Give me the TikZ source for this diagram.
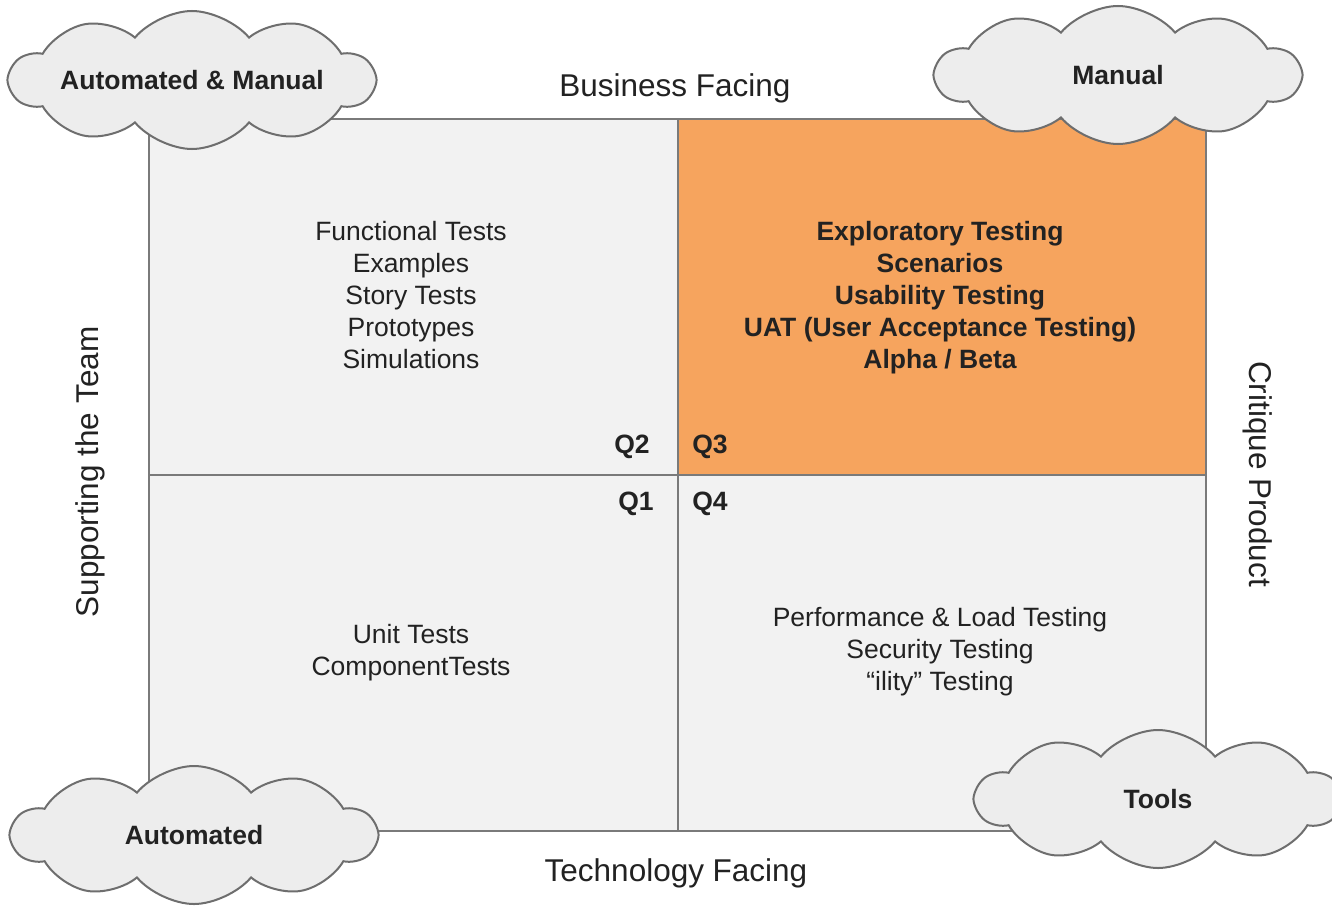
\documentclass[tikz,border=0pt]{standalone}
\usepackage{fontspec}
\setmainfont{Liberation Sans}
\usetikzlibrary{shapes.symbols}
\definecolor{quadgray}{HTML}{F2F2F2}
\definecolor{quadorange}{HTML}{F6A45E}
\definecolor{edgegray}{HTML}{7A7A7A}
\definecolor{cloudfill}{HTML}{EDEDED}
\definecolor{cloudedge}{HTML}{6E6E6E}
\definecolor{txt}{HTML}{222222}
\tikzset{
  quad/.style={draw=edgegray, line width=1.5pt},
  qtext/.style={align=center, text=txt, font=\fontsize{26.5}{32}\selectfont, inner sep=0pt},
  qbold/.style={qtext, font=\fontsize{26.5}{32}\selectfont\bfseries},
  axis/.style={text=txt, font=\fontsize{31.5}{36}\selectfont, inner sep=0pt},
  cloudbox/.style={cloud, cloud puffs=10, cloud puff arc=100, cloud ignores aspect,
    draw=cloudedge, line width=2pt, fill=cloudfill, minimum width=364pt, minimum height=138pt,
    text=txt, font=\fontsize{26.5}{30}\selectfont\bfseries, inner sep=0pt},
}
\begin{document}
\begin{tikzpicture}[x=1pt,y=-1pt]
\useasboundingbox (0,0) rectangle (1332,908);
\fill[white] (0,0) rectangle (1332,908);
% quadrants
\node[quad, fill=quadgray, minimum width=529pt, minimum height=356pt, inner sep=0pt, anchor=north west] (q2) at (148,118) {};
\node[quad, fill=quadorange, minimum width=528pt, minimum height=356pt, inner sep=0pt, anchor=north west] (q3) at (677,118) {};
\node[quad, fill=quadgray, minimum width=529pt, minimum height=356pt, inner sep=0pt, anchor=north west] (q1) at (148,474) {};
\node[quad, fill=quadgray, minimum width=528pt, minimum height=356pt, inner sep=0pt, anchor=north west] (q4) at (677,474) {};
% quadrant texts
\node[qtext] (t2) at (411,295) {Functional Tests\\Examples\\Story Tests\\Prototypes\\Simulations};
\node[qbold] (t3) at (940,298) {Exploratory Testing\\Scenarios\\Usability Testing\\UAT (User Acceptance Testing)\\Alpha / Beta};
\node[qtext] (t1) at (411,653) {Unit Tests\\ComponentTests};
\node[qtext] (t4) at (940,652) {Performance \& Load Testing\\Security Testing\\“ility” Testing};
% quadrant labels
\node[qbold] (l2) at (632,447) {Q2};
\node[qbold] (l3) at (710,447) {Q3};
\node[qbold] (l1) at (636,504) {Q1};
\node[qbold] (l4) at (710,504) {Q4};
% axis labels
\node[axis] (top) at (675,88) {Business Facing};
\node[axis] (bot) at (676,873) {Technology Facing};
\node[axis, rotate=90] (left) at (90,472) {Supporting the Team};
\node[axis, rotate=-90] (right) at (1258,474) {Critique Product};
% clouds
\node[cloudbox] (c1) at (192,80) {Automated \& Manual};
\node[cloudbox] (c2) at (1118,75) {Manual};
\node[cloudbox] (c3) at (194,835) {Automated};
\node[cloudbox] (c4) at (1158,799) {Tools};
\end{tikzpicture}
\end{document}
